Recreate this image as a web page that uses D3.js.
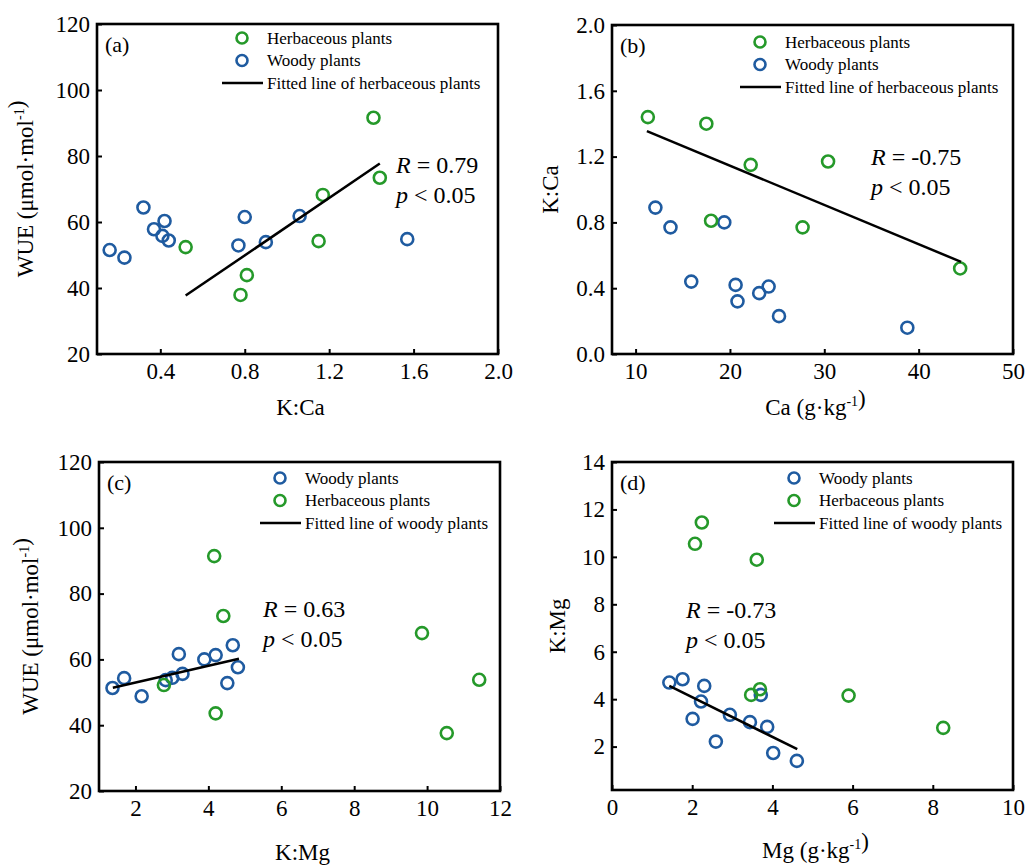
<!DOCTYPE html>
<html>
<head>
<meta charset="utf-8">
<script src="https://cdn.jsdelivr.net/npm/d3@7"></script>
<style>
  body { margin: 0; background: #fff; }
  svg, svg text { font-family: "Liberation Serif", "Times New Roman", serif; }
</style>
</head>
<body>
<svg id="chart" width="1027" height="867"></svg>
<script>
// (a) WUE vs K:Ca
var herbKCa_a  = [0.52, 0.78, 0.81, 1.15, 1.17, 1.41, 1.44];
var herbWUE_a  = [52.4, 37.9, 43.9, 54.2, 68.2, 91.6, 73.4];
var woodyKCa_a = [0.16, 0.23, 0.32, 0.37, 0.42, 0.41, 0.44, 0.77, 0.80, 0.90, 1.06, 1.57];
var woodyWUE_a = [51.5, 49.2, 64.4, 57.8, 60.3, 55.8, 54.4, 52.9, 61.5, 53.9, 61.8, 54.8];
var fitX_a = [0.52, 1.44], fitY_a = [37.7, 77.7];

// (b) K:Ca vs Ca
var herbCa_b   = [11.3, 17.5, 22.2, 30.4, 18.0, 27.7, 44.4];
var herbKCa_b  = [1.44, 1.40, 1.15, 1.17, 0.81, 0.77, 0.52];
var woodyCa_b  = [12.1, 13.7, 19.4, 15.9, 20.6, 20.8, 23.1, 24.1, 25.2, 38.8];
var woodyKCa_b = [0.89, 0.77, 0.80, 0.44, 0.42, 0.32, 0.37, 0.41, 0.23, 0.16];
var fitX_b = [11.2, 44.5], fitY_b = [1.355, 0.56];

// (c) WUE vs K:Mg
var woodyKMg_c = [1.37, 1.69, 2.17, 2.83, 3.01, 3.29, 3.19, 3.89, 4.20, 4.67, 4.81, 4.52];
var woodyWUE_c = [51.3, 54.3, 48.8, 53.7, 54.4, 55.6, 61.6, 60.0, 61.3, 64.3, 57.6, 52.8];
var herbKMg_c  = [4.16, 4.41, 2.78, 4.20, 9.86, 10.54, 11.43];
var herbWUE_c  = [91.4, 73.2, 52.2, 43.6, 68.0, 37.6, 53.8];
var fitX_c = [1.38, 4.84], fitY_c = [51.4, 60.2];

// (d) K:Mg vs Mg
var woodyMg_d  = [1.43, 1.76, 2.30, 2.22, 2.01, 2.59, 2.94, 3.44, 3.71, 3.87, 4.02, 4.61];
var woodyKMg_d = [4.70, 4.84, 4.56, 3.90, 3.17, 2.21, 3.34, 3.03, 4.18, 2.83, 1.73, 1.40];
var herbMg_d   = [2.24, 2.07, 3.61, 3.47, 3.69, 5.90, 8.26];
var herbKMg_d  = [11.45, 10.55, 9.88, 4.18, 4.42, 4.15, 2.79];
var fitX_d = [1.43, 4.62], fitY_d = [4.56, 1.89];

// tick values
var ticksX_a = [0.4, 0.8, 1.2, 1.6, 2.0];
var ticksX_b = [10, 20, 30, 40, 50];
var ticksX_c = [2, 4, 6, 8, 10, 12];
var ticksX_d = [0, 2, 4, 6, 8, 10];
var ticksWUE = [20, 40, 60, 80, 100, 120];
var ticksY_b = [0.0, 0.4, 0.8, 1.2, 1.6, 2.0];
var ticksY_d = [2, 4, 6, 8, 10, 12, 14];

var GREEN = "#25992a", BLUE = "#1f5ba0";
var FONT = "Liberation Serif, Times New Roman, serif";

var svg = d3.select("#chart");

function zip(xs, ys){ return xs.map(function(x, i){ return [x, ys[i]]; }); }

function drawPanel(p){
	var w = p.right - p.left, h = p.bottom - p.top;
	var g = svg.append("g").attr("transform", "translate(" + p.left + "," + p.top + ")")
		.attr("font-family", FONT);

	var x = d3.scaleLinear().domain(p.xDomain).range([0, w]);
	var y = d3.scaleLinear().domain(p.yDomain).range([h, 0]);

	var xAxis = d3.axisBottom(x).tickValues(p.xTicks).tickFormat(p.xFmt)
		.tickSizeInner(-5).tickSizeOuter(0).tickPadding(9);
	var yAxis = d3.axisLeft(y).tickValues(p.yTicks).tickFormat(p.yFmt)
		.tickSizeInner(-5).tickSizeOuter(0).tickPadding(7);

	var gx = g.append("g").attr("transform", "translate(0," + h + ")").call(xAxis);
	var gy = g.append("g").call(yAxis);
	[gx, gy].forEach(function(a){
		a.attr("font-family", FONT).attr("font-size", 23);
		a.select(".domain").remove();
		a.selectAll("line").attr("stroke", "#000").attr("stroke-width", 2);
		a.selectAll("text").attr("fill", "#000");
	});

	g.append("rect")
		.attr("width", w).attr("height", h)
		.attr("fill", "none").attr("stroke", "#000").attr("stroke-width", 2.6);

	p.series.forEach(function(s){
		g.selectAll(null)
			.data(zip(s.x, s.y))
			.join("circle")
			.attr("cx", function(d){ return x(d[0]); })
			.attr("cy", function(d){ return y(d[1]); })
			.attr("r", 6)
			.attr("fill", "none")
			.attr("stroke", s.color)
			.attr("stroke-width", 2.6);
	});

	g.append("path")
		.datum(zip(p.fitX, p.fitY))
		.attr("d", d3.line().x(function(d){ return x(d[0]); }).y(function(d){ return y(d[1]); }))
		.attr("stroke", "#000").attr("stroke-width", 2.5).attr("fill", "none");

	// panel letter
	g.append("text").attr("x", 8).attr("y", 28).attr("font-size", 22).text(p.letter);

	// R and p
	var r = g.append("text").attr("x", p.statX).attr("y", p.statY).attr("font-size", 24);
	r.append("tspan").attr("font-style", "italic").text("R");
	r.append("tspan").text(" = " + p.R);
	var pp = g.append("text").attr("x", p.statX).attr("y", p.statY + 30).attr("font-size", 24);
	pp.append("tspan").attr("font-style", "italic").text("p");
	pp.append("tspan").text(" < 0.05");

	// legend
	var lg = g.append("g").attr("transform", "translate(" + p.legX + "," + p.legY + ")");
	p.legend.forEach(function(item, i){
		var yy = i * 22.5;
		if (item.type === "circle") {
			lg.append("circle").attr("cx", 0).attr("cy", yy).attr("r", 5.5)
				.attr("fill", "none").attr("stroke", item.color).attr("stroke-width", 2.6);
		} else {
			lg.append("line").attr("x1", -20).attr("x2", 21).attr("y1", yy).attr("y2", yy)
				.attr("stroke", "#000").attr("stroke-width", 2.5);
		}
		lg.append("text").attr("x", 25).attr("y", yy + 5.5).attr("font-size", 17).text(item.label);
	});

	// x title
	var xt = g.append("text").attr("x", w / 2 + 3).attr("y", p.xTitleY)
		.attr("text-anchor", "middle").attr("font-size", 23);
	addTitle(xt, p.xTitle);

	// y title
	var yt = g.append("text")
		.attr("transform", "translate(" + p.yTitleX + "," + (h / 2) + ") rotate(-90)")
		.attr("text-anchor", "middle").attr("font-size", 23);
	addTitle(yt, p.yTitle);
}

function addTitle(sel, parts){
	parts.forEach(function(t){
		if (t.sup) {
			sel.append("tspan").attr("font-size", 14).attr("dy", -9).text(t.sup);
			sel.append("tspan").attr("dy", 9).text("");
		} else {
			sel.append("tspan").text(t.txt);
		}
	});
}

var wueTitle = [{txt: "WUE (\u03bcmol\u00b7mol"}, {sup: "-1"}, {txt: ")"}];
var fmt1 = d3.format(".1f"), fmt0 = d3.format("d");

drawPanel({
	left: 97, right: 498, top: 24, bottom: 354,
	xDomain: [0.1, 2.0], yDomain: [20, 120],
	xTicks: ticksX_a, yTicks: ticksWUE, xFmt: fmt1, yFmt: fmt0,
	series: [{x: woodyKCa_a, y: woodyWUE_a, color: BLUE}, {x: herbKCa_a, y: herbWUE_a, color: GREEN}],
	fitX: fitX_a, fitY: fitY_a,
	letter: "(a)", R: "0.79", statX: 299, statY: 149,
	legX: 145, legY: 14,
	legend: [{type: "circle", color: GREEN, label: "Herbaceous plants"},
	         {type: "circle", color: BLUE, label: "Woody plants"},
	         {type: "line", label: "Fitted line of herbaceous plants"}],
	xTitle: [{txt: "K:Ca"}], xTitleY: 391,
	yTitle: wueTitle, yTitleX: -64
});

drawPanel({
	left: 612, right: 1013, top: 25, bottom: 354,
	xDomain: [7.5, 50], yDomain: [0, 2.0],
	xTicks: ticksX_b, yTicks: ticksY_b, xFmt: fmt0, yFmt: fmt1,
	series: [{x: woodyCa_b, y: woodyKCa_b, color: BLUE}, {x: herbCa_b, y: herbKCa_b, color: GREEN}],
	fitX: fitX_b, fitY: fitY_b,
	letter: "(b)", R: "-0.75", statX: 259, statY: 140,
	legX: 148, legY: 17,
	legend: [{type: "circle", color: GREEN, label: "Herbaceous plants"},
	         {type: "circle", color: BLUE, label: "Woody plants"},
	         {type: "line", label: "Fitted line of herbaceous plants"}],
	xTitle: [{txt: "Ca (g\u00b7kg"}, {sup: "-1"}, {txt: ")"}], xTitleY: 390,
	yTitle: [{txt: "K:Ca"}], yTitleX: -54
});

drawPanel({
	left: 99, right: 500, top: 462, bottom: 791,
	xDomain: [1, 12], yDomain: [20, 120],
	xTicks: ticksX_c, yTicks: ticksWUE, xFmt: fmt0, yFmt: fmt0,
	series: [{x: woodyKMg_c, y: woodyWUE_c, color: BLUE}, {x: herbKMg_c, y: herbWUE_c, color: GREEN}],
	fitX: fitX_c, fitY: fitY_c,
	letter: "(c)", R: "0.63", statX: 164, statY: 155,
	legX: 181, legY: 16,
	legend: [{type: "circle", color: BLUE, label: "Woody plants"},
	         {type: "circle", color: GREEN, label: "Herbaceous plants"},
	         {type: "line", label: "Fitted line of woody plants"}],
	xTitle: [{txt: "K:Mg"}], xTitleY: 398,
	yTitle: wueTitle, yTitleX: -61
});

drawPanel({
	left: 612, right: 1013, top: 462, bottom: 790,
	xDomain: [0, 10], yDomain: [0.17, 14],
	xTicks: ticksX_d, yTicks: ticksY_d, xFmt: fmt0, yFmt: fmt0,
	series: [{x: woodyMg_d, y: woodyKMg_d, color: BLUE}, {x: herbMg_d, y: herbKMg_d, color: GREEN}],
	fitX: fitX_d, fitY: fitY_d,
	letter: "(d)", R: "-0.73", statX: 74, statY: 156,
	legX: 182, legY: 16,
	legend: [{type: "circle", color: BLUE, label: "Woody plants"},
	         {type: "circle", color: GREEN, label: "Herbaceous plants"},
	         {type: "line", label: "Fitted line of woody plants"}],
	xTitle: [{txt: "Mg (g\u00b7kg"}, {sup: "-1"}, {txt: ")"}], xTitleY: 396,
	yTitle: [{txt: "K:Mg"}], yTitleX: -47
});
</script>
</body>
</html>
